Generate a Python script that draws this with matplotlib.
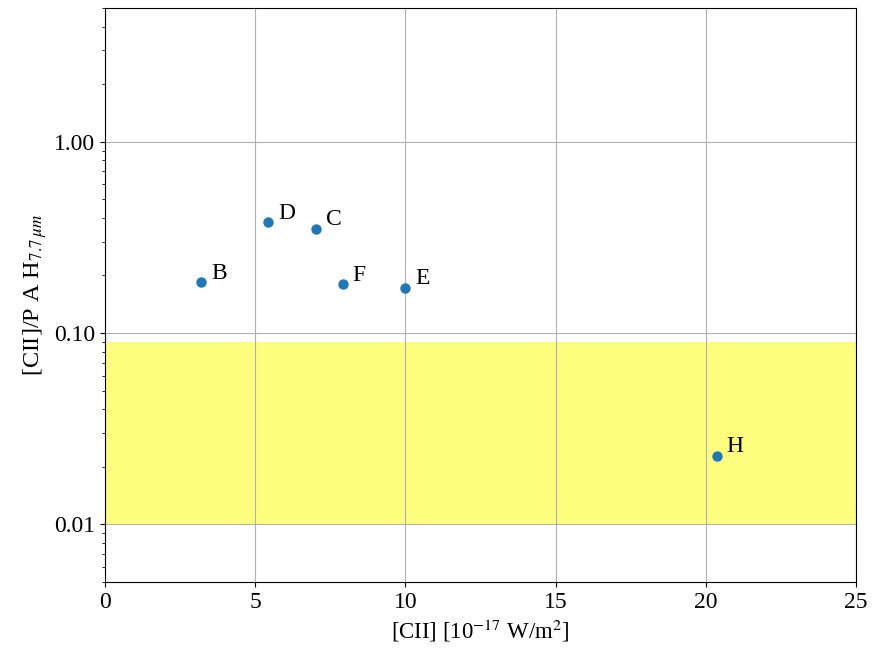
import matplotlib
matplotlib.use("Agg")
import matplotlib.pyplot as plt
from matplotlib.ticker import FixedLocator, FormatStrFormatter, LogLocator, NullFormatter

plt.rcParams['font.family'] = ['Liberation Serif', 'DejaVu Serif']
plt.rcParams['mathtext.fontset'] = 'stix'

labels = ['B', 'D', 'C', 'F', 'E', 'H']
cii_flux = [3.2, 5.43, 7.02, 7.92, 9.99, 20.37]
cii_pah_ratio = [0.184, 0.379, 0.352, 0.180, 0.172, 0.0229]

band_low, band_high = 0.01, 0.09
y_ticks = [0.01, 0.1, 1.0]

fig = plt.figure(figsize=(8.79, 6.53), dpi=100)
ax = fig.add_axes([0.1195, 0.1087, 0.8544, 0.879])

ax.axhspan(band_low, band_high, color='yellow', alpha=0.5, lw=0, zorder=0)
ax.scatter(cii_flux, cii_pah_ratio, s=42, color='#1f77b4', zorder=3)
for lab, x, y in zip(labels, cii_flux, cii_pah_ratio):
    ax.annotate(lab, (x, y), xytext=(7, -1), textcoords='offset points',
                fontsize=17, va='bottom', ha='left')

ax.set_yscale('log')
ax.set_xlim(0, 25)
ax.set_ylim(0.005, 5)
ax.yaxis.set_major_locator(FixedLocator(y_ticks))
ax.yaxis.set_major_formatter(FormatStrFormatter('%.2f'))
ax.yaxis.set_minor_locator(LogLocator(base=10, subs=range(2, 10)))
ax.yaxis.set_minor_formatter(NullFormatter())
ax.grid(True, which='major', color='#b0b0b0', lw=0.8)
ax.set_axisbelow(True)
ax.tick_params(labelsize=17)

ax.set_xlabel(r'[CII] [10$^{-17}$ W/m$^{2}$]', fontsize=16.5)
ax.set_ylabel(r'[CII]/P A H$_{7.7\,\mu m}$', fontsize=17.5)

fig.savefig('out.png', dpi=100)
